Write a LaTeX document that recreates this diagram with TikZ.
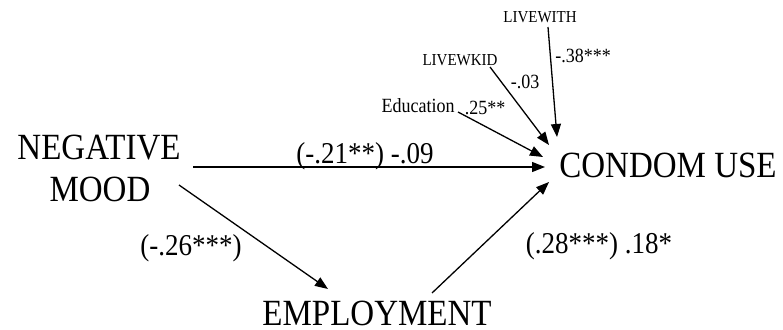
\documentclass[tikz,border=0pt]{standalone}
\usepackage{graphicx}
\usepackage{fontspec}
\setmainfont{Liberation Serif}
\usetikzlibrary{arrows.meta}
\newcommand{\tallt}[1]{\scalebox{1}[1.12]{#1}}
\begin{document}
\begin{tikzpicture}[x=1pt,y=-1pt,
  big/.style={anchor=base,inner sep=0pt,font=\fontsize{33}{36}\selectfont},
  coef/.style={anchor=base,inner sep=0pt,font=\fontsize{27}{30}\selectfont},
  small/.style={anchor=base,inner sep=0pt,font=\fontsize{18}{20}\selectfont},
  tiny/.style={anchor=base,inner sep=0pt,font=\fontsize{15}{17}\selectfont},
  path/.style={line width=1.3pt,-{Triangle[length=13pt,width=10pt]}},
  ]
\useasboundingbox (0,0) rectangle (783,329);
% nodes
\node[big] (neg) at (99,159) {\tallt{NEGATIVE}};
\node[big] (mood) at (100,201) {\tallt{MOOD}};
\node[big] (cu) at (668,177) {\tallt{CONDOM USE}};
\node[big] (emp) at (377,325) {\tallt{EMPLOYMENT}};
\node[small] (edu) at (418,112) {\tallt{Education}};
\node[tiny] (kid) at (460,65) {\tallt{LIVEWKID}};
\node[tiny] (with) at (540,23) {\tallt{LIVEWITH}};
% labels
\node[coef] (l1) at (365,163) {\tallt{(-.21**) -.09}};
\node[coef] (l2) at (191,255) {\tallt{(-.26***)}};
\node[coef] (l3) at (599,253) {\tallt{(.28***) .18*}};
\node[small] (l4) at (485,114) {\tallt{.25**}};
\node[small] (l5) at (525,88) {\tallt{-.03}};
\node[small] (l6) at (583,63) {\tallt{-.38***}};
% connector endpoints
\coordinate (negE) at (193,167);
\coordinate (cuW) at (545,167);
\coordinate (moodE) at (179,185);
\coordinate (empN) at (328,289);
\coordinate (empNE) at (432,293);
\coordinate (cuSW) at (549,182);
\coordinate (eduE) at (458,112);
\coordinate (cuNW1) at (543,157);
\coordinate (kidS) at (490,67);
\coordinate (cuNW2) at (549,145);
\coordinate (withS) at (548,27);
\coordinate (cuN) at (557,137);
% connectors
\draw[path] (negE) -- (cuW);
\draw[path] (moodE) -- (empN);
\draw[path] (empNE) -- (cuSW);
\draw[path] (eduE) -- (cuNW1);
\draw[path] (kidS) -- (cuNW2);
\draw[path] (withS) -- (cuN);
\end{tikzpicture}
\end{document}
